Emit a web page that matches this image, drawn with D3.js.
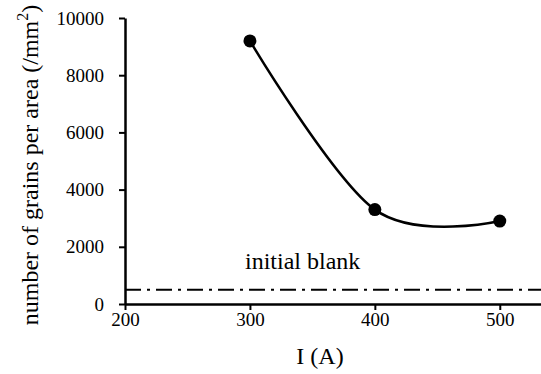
<html>
<head>
    <style>
        body { margin: 0; background: white; }
    </style>
</head>
<body>
    <svg id="container" width="541" height="374"></svg>
</body>
<script src="https://cdn.jsdelivr.net/npm/d3@7"></script>
<script>
    let current = [300, 400, 500]
    let grains = [9200, 3300, 2900]
    let blankLevel = 500
    let xTicks = [200, 300, 400, 500]
    let yTicks = [0, 2000, 4000, 6000, 8000, 10000]

    let serif = "'Liberation Serif', 'Times New Roman', serif"
    let svg = d3.select("#container")

    let x = d3.scaleLinear().domain([200, 533]).range([125, 541])
    let y = d3.scaleLinear().domain([0, 10000]).range([304, 18])

    let xAxis = svg.append("g")
        .attr("transform", "translate(0,304)")
        .call(d3.axisBottom(x).tickValues(xTicks).tickSize(6).tickSizeOuter(0).tickFormat(d3.format("d")))
    xAxis.selectAll("text").attr("y", 9)

    let yAxis = svg.append("g")
        .attr("transform", "translate(125,0)")
        .call(d3.axisLeft(y).tickValues(yTicks).tickSize(6).tickSizeOuter(0).tickFormat(d3.format("d")))
    yAxis.selectAll("text").attr("x", -21)

    svg.selectAll("g text").attr("fill", "black").style("font-size", "19px")
    svg.selectAll("g line").attr("stroke", "black").attr("stroke-width", 2)
    svg.selectAll("g .domain").attr("stroke", "black").attr("stroke-width", 2.5)

    // blank level line
    svg.append("line")
        .attr("x1", x(200)).attr("x2", 541)
        .attr("y1", y(blankLevel)).attr("y2", y(blankLevel))
        .attr("stroke", "black")
        .attr("stroke-width", 2)
        .attr("stroke-dasharray", "16,6,3,6")

    svg.append("text")
        .attr("x", 245).attr("y", 269)
        .style("font-size", "24px")
        .text("initial blank")

    let pts = current.map((c, i) => [c, grains[i]])

    let line = d3.line()
        .x(d => x(d[0]))
        .y(d => y(d[1]))
        .curve(d3.curveCardinal.tension(0))

    svg.append("path")
        .datum(pts)
        .attr("d", line)
        .attr("fill", "none")
        .attr("stroke", "black")
        .attr("stroke-width", 2.5)

    svg.selectAll("circle")
        .data(pts)
        .enter()
        .append("circle")
        .attr("cx", d => x(d[0]))
        .attr("cy", d => y(d[1]))
        .attr("r", 6.5)
        .attr("fill", "black")

    svg.append("text")
        .attr("x", 320).attr("y", 364)
        .attr("text-anchor", "middle")
        .style("font-size", "24px")
        .text("I (A)")

    let yl = svg.append("text")
        .attr("transform", "translate(38,165) rotate(-90)")
        .attr("text-anchor", "middle")
        .style("font-size", "24px")
    yl.append("tspan").text("number of grains per area (/mm")
    yl.append("tspan").style("font-size", "16px").attr("dy", -10).text("2")
    yl.append("tspan").attr("dy", 10).text(")")

    svg.selectAll("text").style("font-family", serif)
</script>
</html>
